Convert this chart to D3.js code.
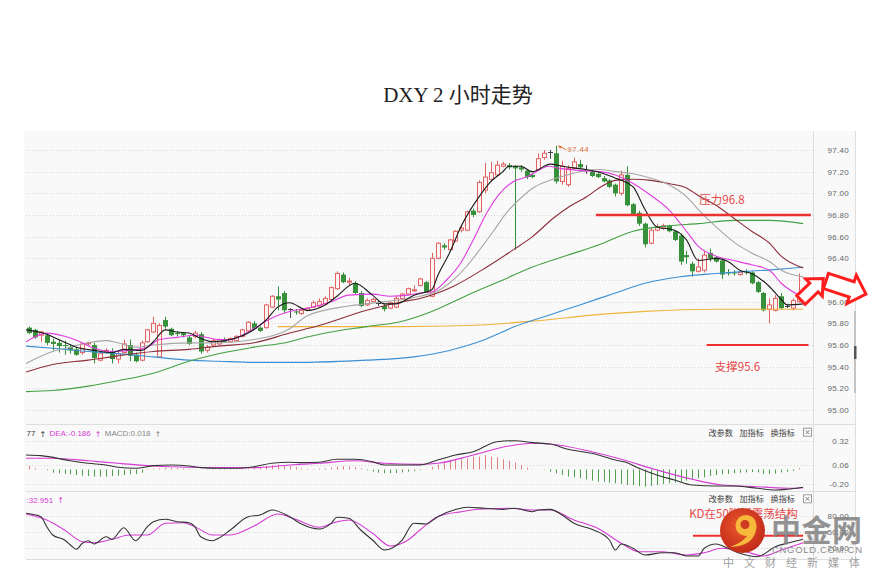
<!DOCTYPE html>
<html>
<head>
<meta charset="utf-8">
<script src="https://cdn.jsdelivr.net/npm/d3@7/dist/d3.min.js"></script>
<style>
html,body{margin:0;padding:0;background:#fff;}
svg{display:block;}
</style>
</head>
<body>
<svg id="chart" width="877" height="580"></svg>
<script>
// ---------------- DATA ----------------
const title = "DXY 2小时走势";
const priceTicks = [97.4,97.2,97.0,96.8,96.6,96.4,96.2,96.0,95.8,95.6,95.4,95.2,95.0];
const macdTicks = [0.32,0.06,-0.20];
const kdTicks = [80,50,20];
const panelButtons = ["改参数","加指标","换指标"];

const open = [95.76,95.74,95.69,95.69,95.63,95.62,95.60,95.58,95.56,95.53,
95.61,95.60,95.46,95.54,95.54,95.47,95.53,95.60,95.51,95.46,
95.63,95.72,95.49,95.83,95.75,95.71,95.71,95.67,95.68,95.70,
95.55,95.60,95.61,95.65,95.63,95.64,95.68,95.73,95.80,95.76,
95.76,95.95,96.05,96.08,95.93,95.91,95.89,95.92,95.95,95.96,
95.98,96.02,96.12,96.25,96.18,96.17,96.08,95.97,96.00,95.99,
95.96,95.94,95.95,96.03,96.07,96.10,96.15,96.18,96.05,96.40,
96.52,96.48,96.56,96.66,96.66,96.84,96.83,97.03,97.13,97.17,
97.25,97.26,97.25,97.24,97.21,97.17,97.22,97.33,97.38,97.37,
97.11,97.08,97.23,97.27,97.22,97.20,97.18,97.14,97.12,97.08,
97.00,97.17,96.90,96.82,96.72,96.54,96.66,96.68,96.70,96.65,
96.61,96.43,96.35,96.28,96.29,96.45,96.41,96.38,96.27,96.27,
96.25,96.28,96.27,96.18,96.08,95.93,95.92,96.05,95.96,95.94,
96.00];
const high = [95.77,95.75,95.73,95.71,95.66,95.65,95.64,95.60,95.58,95.62,
95.63,95.62,95.52,95.57,95.57,95.55,95.65,95.65,95.53,95.64,
95.75,95.86,95.80,95.86,95.76,95.73,95.72,95.69,95.73,95.72,
95.60,95.66,95.66,95.67,95.67,95.69,95.75,95.82,95.82,95.77,
95.98,96.06,96.14,96.10,95.94,95.93,95.93,95.95,96.01,96.03,
96.05,96.14,96.28,96.27,96.22,96.19,96.10,96.03,96.04,96.01,
95.98,96.00,96.05,96.08,96.13,96.15,96.22,96.19,96.45,96.55,
96.54,96.58,96.66,96.70,96.84,96.86,97.12,97.28,97.29,97.30,
97.29,97.28,97.26,97.26,97.22,97.19,97.37,97.40,97.40,97.44,
97.30,97.26,97.33,97.31,97.26,97.22,97.19,97.16,97.13,97.09,
97.21,97.25,96.91,96.84,96.73,96.68,96.72,96.72,96.71,96.66,
96.63,96.47,96.37,96.40,96.47,96.49,96.42,96.39,96.30,96.29,
96.29,96.30,96.28,96.19,96.09,96.03,96.06,96.08,95.98,96.03,
96.26];
const low = [95.70,95.66,95.63,95.60,95.55,95.53,95.51,95.52,95.50,95.51,
95.60,95.43,95.45,95.52,95.43,95.43,95.52,95.45,95.44,95.45,
95.62,95.71,95.48,95.75,95.68,95.68,95.67,95.60,95.66,95.52,
95.53,95.59,95.60,95.62,95.62,95.63,95.67,95.72,95.74,95.72,
95.75,95.94,95.92,95.89,95.85,95.88,95.88,95.91,95.94,95.95,
95.97,96.01,96.11,96.17,96.15,96.07,95.95,95.96,95.99,95.96,
95.91,95.93,95.94,96.02,96.06,96.09,96.14,96.08,96.04,96.39,
96.48,96.47,96.55,96.64,96.65,96.78,96.82,97.00,97.11,97.16,
97.24,97.22,96.48,97.20,97.13,97.14,97.21,97.31,97.32,97.09,
97.08,97.06,97.22,97.23,97.18,97.15,97.14,97.10,97.05,96.97,
96.98,96.88,96.80,96.70,96.50,96.53,96.65,96.66,96.64,96.56,
96.34,96.35,96.23,96.27,96.27,96.37,96.36,96.21,96.24,96.24,
96.24,96.25,96.16,96.08,95.91,95.80,95.91,95.93,95.94,95.92,
95.99];
const close = [95.71,95.67,95.72,95.62,95.61,95.59,95.59,95.55,95.51,95.61,
95.62,95.48,95.52,95.55,95.47,95.52,95.61,95.50,95.45,95.62,
95.74,95.80,95.78,95.77,95.69,95.70,95.69,95.61,95.71,95.54,
95.58,95.64,95.65,95.63,95.66,95.68,95.74,95.81,95.75,95.73,
95.97,96.05,96.02,95.92,95.93,95.90,95.92,95.94,95.99,96.00,
96.03,96.13,96.26,96.18,96.19,96.08,95.96,96.01,96.02,95.99,
95.93,95.99,96.03,96.07,96.12,96.11,96.21,96.09,96.40,96.54,
96.50,96.57,96.65,96.68,96.83,96.80,97.10,97.15,97.19,97.26,
97.27,97.24,97.23,97.22,97.15,97.15,97.32,97.37,97.38,97.11,
97.25,97.23,97.29,97.24,97.22,97.16,97.15,97.11,97.06,97.00,
97.17,96.89,96.81,96.72,96.53,96.66,96.69,96.70,96.65,96.57,
96.37,96.41,96.28,96.32,96.43,96.40,96.37,96.25,96.26,96.26,
96.27,96.27,96.17,96.09,95.92,95.97,96.03,95.94,95.96,96.01,
96.05];

// moving averages: [bar index, price]
const ma5 = [[-0.5,95.74],[3,95.70],[5,95.65],[8,95.58],[11,95.55],[14,95.53],[16,95.56],[19,95.55],[21,95.63],[23,95.74],[25,95.72],[27,95.71],[29,95.66],[31,95.63],[34,95.65],[37,95.71],[40,95.83],[42,95.95],[44,95.99],[47,95.92],[50,95.97],[52,96.05],[55,96.17],[58,96.06],[60,95.98],[62,95.98],[65,96.06],[68,96.11],[69,96.24],[71,96.45],[73,96.70],[76,96.97],[78,97.11],[80,97.20],[81,97.25],[83,97.25],[85,97.20],[88,97.27],[90,97.25],[94,97.22],[96,97.20],[99,97.14],[100,97.12],[102,97.06],[104,96.85],[106,96.69],[109,96.66],[111,96.57],[113,96.38],[116,96.40],[118,96.37],[120,96.29],[122,96.26],[125,96.14],[127,96.02],[128,95.97],[130.7,95.98]];
const ma10 = [[-0.5,95.63],[3,95.71],[6,95.68],[9,95.62],[11,95.57],[14,95.54],[17,95.55],[20,95.58],[22,95.65],[25,95.67],[28,95.69],[30,95.67],[32,95.65],[34,95.65],[37,95.72],[41,95.85],[44,95.91],[47,95.94],[51,96.00],[54,96.06],[58,96.07],[61,96.05],[64,96.06],[66,96.08],[68,96.09],[70.5,96.20],[72.8,96.35],[75,96.57],[77.3,96.82],[79.5,97.00],[81.8,97.11],[84,97.15],[86.3,97.22],[87.7,97.25],[89.6,97.23],[93,97.21],[96.4,97.20],[99,97.17],[102,97.09],[105,96.98],[108,96.85],[111,96.65],[113,96.51],[116,96.42],[119,96.38],[122,96.34],[125,96.29],[127,96.17],[130.7,96.04]];
const ma20 = [[-0.5,95.43],[4,95.54],[7,95.58],[10,95.62],[13,95.64],[15,95.62],[18,95.58],[21,95.60],[27,95.62],[32,95.62],[38,95.65],[44,95.75],[47,95.87],[54,95.96],[60,96.00],[66,96.05],[69.4,96.11],[71.6,96.20],[73.8,96.32],[76.1,96.48],[78.4,96.65],[80.6,96.82],[82.9,96.95],[85.1,97.05],[87.4,97.11],[89.6,97.15],[93,97.20],[96.4,97.22],[99,97.20],[102,97.18],[105,97.14],[108,97.08],[111,96.97],[113,96.85],[116,96.69],[119,96.55],[122,96.45],[125,96.37],[127,96.29],[130.7,96.23]];
const ma30 = [[-0.5,95.35],[4,95.42],[10,95.46],[15,95.50],[21,95.54],[27,95.56],[32,95.59],[38,95.62],[44,95.71],[49,95.78],[57,95.92],[63,96.00],[66,96.03],[71.6,96.14],[77.3,96.32],[81.8,96.48],[85,96.60],[88.5,96.77],[91,96.87],[94.2,96.97],[96,97.04],[99,97.12],[102,97.13],[105,97.12],[108,97.09],[111,97.05],[113,96.98],[116,96.89],[119,96.77],[122,96.65],[125,96.54],[127,96.42],[130.7,96.31]];
const ma60 = [[-0.5,95.17],[4,95.18],[10,95.22],[15,95.27],[21,95.34],[27,95.45],[32,95.52],[38,95.58],[44,95.63],[46,95.66],[51,95.72],[57,95.77],[63,95.82],[68,95.91],[74,96.06],[80,96.20],[85,96.32],[91,96.43],[96,96.52],[102,96.65],[108,96.70],[113,96.72],[119,96.75],[125,96.75],[130.7,96.72]];
const ma120 = [[-0.5,95.59],[4,95.57],[10,95.54],[15,95.52],[21,95.49],[27,95.46],[32,95.45],[38,95.44],[46,95.44],[57,95.46],[65,95.49],[71,95.55],[77,95.65],[82,95.77],[88,95.88],[93,95.97],[99,96.08],[104,96.17],[110,96.23],[116,96.26],[121,96.28],[127,96.30],[130.7,96.32]];
const ma250 = [[42,95.77],[63,95.77],[74,95.78],[85,95.82],[96,95.88],[104,95.91],[116,95.93],[130.7,95.93]];

// MACD
const macdHist = [0.047,0.016,0.004,-0.010,-0.044,-0.052,-0.061,-0.066,-0.075,-0.084,
-0.088,-0.097,-0.097,-0.097,-0.088,-0.084,-0.075,-0.066,-0.061,-0.044,
0.010,0.012,0.016,0.020,0.020,0.016,0.012,0.008,0.006,0.004,
-0.004,-0.006,-0.006,-0.005,-0.004,0.004,0.008,0.012,0.020,0.030,
0.045,0.060,0.065,0.060,0.045,0.030,0.015,0.008,0.006,0.010,
0.015,0.025,0.035,0.045,0.040,0.030,0.015,-0.010,-0.030,-0.045,
-0.050,-0.052,-0.048,-0.040,-0.030,-0.020,-0.010,0.006,0.035,0.065,
0.095,0.113,0.113,0.121,0.132,0.149,0.149,0.167,0.149,0.142,
0.121,0.106,0.085,0.060,0.024,0.005,0.000,-0.005,-0.030,-0.052,
-0.075,-0.097,-0.106,-0.119,-0.133,-0.151,-0.165,-0.165,-0.178,-0.187,
-0.196,-0.209,-0.209,-0.223,-0.232,-0.223,-0.209,-0.196,-0.187,-0.178,
-0.165,-0.151,-0.133,-0.119,-0.106,-0.088,-0.075,-0.066,-0.061,-0.052,
-0.044,-0.040,-0.035,-0.040,-0.060,-0.060,-0.055,-0.040,-0.030,-0.020,
0.018];
const diffLine = [[-0.5,0.167],[2,0.160],[7,0.106],[10,0.078],[13,0.060],[15,0.029],[18,0.016],[21,0.051],[24,0.060],[27,0.047],[29,0.024],[32,0.016],[35,0.016],[38,0.037],[41,0.078],[44,0.089],[46,0.085],[49,0.089],[52,0.121],[55,0.121],[58,0.095],[60,0.060],[63,0.060],[66,0.060],[69,0.113],[72,0.167],[75,0.202],[79,0.309],[82,0.320],[85,0.299],[88,0.285],[91,0.228],[95,0.185],[99,0.113],[101,0.085],[103,0.016],[106,-0.075],[109,-0.142],[112,-0.209],[116,-0.223],[119,-0.223],[123,-0.254],[126,-0.277],[128,-0.267],[130.7,-0.240]];
const deaLine = [[-0.5,0.132],[4,0.132],[10,0.106],[15,0.078],[21,0.047],[27,0.029],[32,0.024],[38,0.024],[44,0.060],[49,0.078],[55,0.106],[60,0.078],[66,0.067],[69,0.078],[75,0.167],[81,0.263],[85,0.292],[88,0.285],[95,0.202],[100,0.121],[106,-0.007],[112,-0.133],[117,-0.209],[123,-0.232],[129,-0.254],[130.7,-0.246]];

// KD
const kLine = [[-0.5,85.0],[2,78.7],[3,60.1],[4,44.7],[6,35.4],[7,26.1],[8,18.1],[9,29.3],[10,34.1],[11,28.0],[13,41.5],[14,36.7],[16,58.3],[18,34.1],[20,60.1],[21,69.4],[23,73.9],[25,69.4],[27,67.6],[28,60.1],[29,41.5],[31,34.1],[32,38.6],[34,54.0],[37,78.7],[39,81.9],[41,91.1],[44,78.7],[46,65.1],[49,55.9],[51,66.4],[52,77.6],[54,75.7],[56,54.0],[58,35.4],[60,16.8],[63,35.4],[65,66.4],[67,65.1],[69,78.7],[72,92.0],[74,96.2],[77,94.3],[80,92.4],[82,94.3],[85,88.0],[86,91.1],[88,92.4],[90,81.9],[92,66.4],[95,55.3],[98,35.4],[99,16.8],[100,28.0],[102,20.0],[104,7.5],[107,11.8],[109,11.8],[111,5.7],[113,5.7],[114,20.0],[116,28.0],[118,20.0],[120,10.7],[123,4.4],[126,23.0],[128,29.3],[130.7,36.7]];
const dLine = [[-0.5,83.7],[3,72.6],[6,54.0],[9,32.3],[11,30.4],[14,36.7],[17,44.7],[20,44.7],[23,66.4],[26,67.6],[28,60.1],[31,44.7],[34,44.7],[38,61.4],[42,83.7],[45,73.9],[49,59.0],[52,69.4],[54,72.6],[58,47.9],[61,24.3],[64,35.4],[66,54.0],[69,78.7],[73,88.0],[76,92.4],[81,94.3],[85,91.1],[88,91.1],[92,72.6],[96,57.2],[100,29.3],[103,13.7],[107,13.7],[111,7.5],[114,11.8],[117,20.0],[121,13.7],[124,5.7],[127,16.8],[130.7,30.4]];

// annotation levels and labels
const resistance = 96.8, support = 95.6, kdMark = 43.5;
const resistanceText = "压力96.8", supportText = "支撑95.6", kdText = "KD在50附近震荡结构";
// header fragments as visible in the (cropped) picture
const macdHeader = [["77","#333"],["DEA:-0.186","#d43cd4"],["MACD:0.018","#888"]];
const kdHeader = [[":32.951","#d43cd4"]];

// ---------------- DRAW ----------------
const svg = d3.select('#chart');
const L = 26, R = 813, AXR = 855;
const T = 131, MB = 424, XB = 491, KB = 559;
const SANS = "'Liberation Sans', Arial, sans-serif";
const CJK = "'Noto Sans CJK SC', 'Noto Sans', sans-serif";

const x = d3.scaleLinear().domain([0, 130]).range([29, 799]);
const yP = d3.scaleLinear().domain([95.0, 97.4]).range([410, 150]);
const yM = d3.scaleLinear().domain([-0.20, 0.06, 0.32]).range([484.3, 465, 440.7]);
const yK = d3.scaleLinear().domain([20, 80]).range([548.3, 516]);

svg.append('rect').attr('x', 24).attr('y', T).attr('width', AXR - 24).attr('height', KB - T).attr('fill', '#f9f9f9');

const defs = svg.append('defs');
function clip(id, x0, y0, x1, y1) {
  defs.append('clipPath').attr('id', id).append('rect')
    .attr('x', x0).attr('y', y0).attr('width', x1 - x0).attr('height', y1 - y0);
}
clip('cMain', L, T, R, MB);
clip('cMacd', L, MB + 1, R, XB);
clip('cKd', L, XB + 1, R, KB);
const rg = defs.append('radialGradient').attr('id', 'logoG').attr('cx', '45%').attr('cy', '40%').attr('r', '60%');
rg.append('stop').attr('offset', '0%').attr('stop-color', '#ec5a2c');
rg.append('stop').attr('offset', '100%').attr('stop-color', '#c22a1a');

// grid
const grid = svg.append('g').attr('stroke', '#d6d6d6').attr('stroke-dasharray', '1,2').attr('fill', 'none');
function hgrid(ys) { grid.append('line').attr('x1', L).attr('x2', R).attr('y1', Math.round(ys) + 0.5).attr('y2', Math.round(ys) + 0.5); }
priceTicks.forEach(t => hgrid(yP(t)));
macdTicks.forEach(t => hgrid(yM(t)));
kdTicks.forEach(t => hgrid(yK(t)));

// separators
const sep = svg.append('g').attr('stroke', '#dedede');
[MB, XB, KB].forEach(y => sep.append('line').attr('x1', L).attr('x2', AXR).attr('y1', y + 0.5).attr('y2', y + 0.5));
sep.append('line').attr('x1', R + 0.5).attr('x2', R + 0.5).attr('y1', T).attr('y2', KB);
sep.append('line').attr('x1', AXR + 0.5).attr('x2', AXR + 0.5).attr('y1', T).attr('y2', KB);
svg.append('rect').attr('x', 854).attr('y', 311).attr('width', 2).attr('height', 82).attr('fill', '#c4c4c4');
svg.append('rect').attr('x', 854).attr('y', 346).attr('width', 2.5).attr('height', 13).attr('fill', '#555');

// axes
function rightAxis(scale, ticks) {
  const g = svg.append('g').attr('transform', 'translate(849,0)')
    .call(d3.axisRight(scale).tickValues(ticks).tickFormat(d => d.toFixed(2)).tickSize(0).tickPadding(0));
  g.select('.domain').remove();
  g.attr('font-family', SANS).attr('font-size', 8);
  g.selectAll('text').attr('text-anchor', 'end').attr('x', 0).attr('fill', '#666').attr('letter-spacing', '0.3px');
}
rightAxis(yP, priceTicks);
rightAxis(yM, macdTicks);
rightAxis(yK, kdTicks);

// main panel
const gMain = svg.append('g').attr('clip-path', 'url(#cMain)');
const gC = gMain.append('g');
for (let i = 0; i < open.length; i++) {
  const cx = Math.round(x(i)) + 0.5;
  const up = close[i] > open[i] + 0.004, down = close[i] < open[i] - 0.004;
  const col = up ? '#e06262' : (down ? '#37903a' : '#444');
  gC.append('line').attr('x1', cx).attr('x2', cx).attr('y1', yP(high[i])).attr('y2', yP(low[i])).attr('stroke', col);
  if (up) {
    gC.append('rect').attr('x', cx - 2).attr('y', yP(close[i])).attr('width', 4)
      .attr('height', Math.max(1, yP(open[i]) - yP(close[i]))).attr('fill', '#fdf4f4').attr('stroke', col);
  } else if (down) {
    gC.append('rect').attr('x', cx - 2.5).attr('y', yP(open[i])).attr('width', 5)
      .attr('height', Math.max(1, yP(close[i]) - yP(open[i]))).attr('fill', col);
  } else {
    gC.append('line').attr('x1', cx - 2.5).attr('x2', cx + 2.5).attr('y1', Math.round(yP(close[i])) + 0.5)
      .attr('y2', Math.round(yP(close[i])) + 0.5).attr('stroke', col);
  }
}
function drawLine(g, data, ys, color, w) {
  g.append('path').datum(data).attr('fill', 'none').attr('stroke', color).attr('stroke-width', w || 1.1)
    .attr('d', d3.line().x(d => x(d[0])).y(d => ys(d[1])).curve(d3.curveMonotoneX));
}
drawLine(gMain, ma250, yP, '#f0b43c');
drawLine(gMain, ma120, yP, '#3b8fd4');
drawLine(gMain, ma60, yP, '#43a043');
drawLine(gMain, ma30, yP, '#8b2e3a');
drawLine(gMain, ma20, yP, '#a6a6a6');
drawLine(gMain, ma10, yP, '#e03ce0');
drawLine(gMain, ma5, yP, '#1a1a1a');

// high marker
const hi = d3.maxIndex(high);
const hx = x(hi), hy = yP(high[hi]);
svg.append('line').attr('x1', hx + 2).attr('y1', hy).attr('x2', hx + 10).attr('y2', hy + 4).attr('stroke', '#e0703a');
svg.append('path').attr('d', `M${hx + 2},${hy} l4,0.5 l-2,2.5 z`).attr('fill', '#e0703a');
svg.append('text').attr('x', hx + 11).attr('y', hy + 4).attr('dy', '0.32em').attr('font-family', SANS)
  .attr('font-size', 8).attr('letter-spacing', '0.4px').attr('fill', '#e0703a').text(high[hi].toFixed(2));

// MACD panel
const gMacd = svg.append('g').attr('clip-path', 'url(#cMacd)');
macdHist.forEach((v, i) => {
  const cx = Math.round(x(i)) + 0.5;
  gMacd.append('line').attr('x1', cx).attr('x2', cx).attr('y1', yM(0)).attr('y2', yM(v))
    .attr('stroke', v >= 0 ? '#e07f7f' : '#4f9f4f');
});
drawLine(gMacd, deaLine, yM, '#d43cd4', 1.1);
drawLine(gMacd, diffLine, yM, '#333', 1.1);

// KD panel
const gKd = svg.append('g').attr('clip-path', 'url(#cKd)');
drawLine(gKd, dLine, yK, '#d43cd4', 1.1);
drawLine(gKd, kLine, yK, '#333', 1.1);

// headers
function header(items, y) {
  let cx = 26.5;
  items.forEach(([s, c]) => {
    const t = svg.append('text').attr('x', cx).attr('y', y).attr('font-family', SANS).attr('font-size', 8).attr('fill', c).text(s);
    cx += t.node().getComputedTextLength() + 4;
    svg.append('text').attr('x', cx).attr('y', y + 0.5).attr('font-family', 'DejaVu Sans, sans-serif').attr('font-size', 8).attr('fill', c).text('↑');
    cx += 10;
  });
}
header(macdHeader, 436);
header(kdHeader, 502.5);

function buttons(yc) {
  const ends = [733, 764, 795];
  panelButtons.forEach((s, k) => {
    svg.append('text').attr('x', ends[k]).attr('y', yc).attr('dy', '0.36em').attr('text-anchor', 'end')
      .attr('font-family', CJK).attr('font-size', 8.2).attr('fill', '#444').text(s);
  });
  svg.append('rect').attr('x', 803.5).attr('y', yc - 4.5).attr('width', 8).attr('height', 8).attr('fill', '#fff').attr('stroke', '#999');
  svg.append('path').attr('d', `M805.5,${yc - 2.5}l4,4M809.5,${yc - 2.5}l-4,4`).attr('stroke', '#777').attr('fill', 'none');
}
buttons(432.7);
buttons(499.3);

// annotations
const RED = '#ef3030';
function redLine(i0, i1, yv, w) {
  svg.append('line').attr('x1', x(i0)).attr('x2', x(i1)).attr('y1', yv).attr('y2', yv).attr('stroke', RED).attr('stroke-width', w);
}
redLine(95.7, 132.0, yP(resistance), 2.5);
redLine(114.4, 131.6, yP(support), 2);
redLine(112.1, 130.7, yK(kdMark), 2);
function redText(s, cx, cy) {
  svg.append('text').attr('x', cx).attr('y', cy).attr('dy', '0.36em').attr('text-anchor', 'middle')
    .attr('font-family', CJK).attr('font-size', 11.5).attr('fill', '#e64848').text(s);
}
redText(resistanceText, 722, 200);
redText(supportText, 737.5, 367);
redText(kdText, 743.5, 513.5);

// outlined arrows
function blockArrow(tx, ty, ang, len, hl, hh, sh) {
  const pts = [[0, -sh], [len - hl, -sh], [len - hl, -hh], [len, 0], [len - hl, hh], [len - hl, sh], [0, sh]];
  const a = ang * Math.PI / 180, c = Math.cos(a), s = Math.sin(a);
  return pts.map(([u, v]) => [tx + u * c - v * s, ty + u * s + v * c]);
}
[[801, 300, -44, 31, 13, 12, 6], [826, 281, 18, 42, 15, 15, 8]].forEach(a => {
  svg.append('polygon').attr('points', blockArrow(...a).map(p => p.join(',')).join(' '))
    .attr('fill', '#fff').attr('stroke', '#ff1e1e').attr('stroke-width', 3).attr('stroke-linejoin', 'miter');
});

// watermark
const wm = svg.append('g');
wm.append('circle').attr('cx', 742.5).attr('cy', 530.5).attr('r', 22.5).attr('fill', 'url(#logoG)');
wm.append('circle').attr('cx', 746).attr('cy', 525.5).attr('r', 10.5).attr('fill', '#f6b93b');
wm.append('circle').attr('cx', 745).attr('cy', 524.5).attr('r', 4.5).attr('fill', '#cf3a22');
wm.append('path').attr('d', 'M756.5,527 Q755,546 730,547 Q748,540 749,531 Z').attr('fill', '#f6b93b');
wm.append('text').attr('x', 771).attr('y', 541).attr('font-family', CJK).attr('font-weight', 'bold')
  .attr('font-size', 30).attr('fill', '#808080').attr('fill-opacity', 0.85).attr('textLength', 91).text('中金网');
wm.append('text').attr('x', 772).attr('y', 552.5).attr('font-family', SANS).attr('font-size', 9.5)
  .attr('fill', '#8c8c8c').attr('textLength', 90).attr('lengthAdjust', 'spacing').text('CNGOLD.COM.CN');
wm.append('text').attr('x', 723).attr('y', 566.5).attr('font-family', CJK).attr('font-size', 11)
  .attr('fill', '#a0a0a0').attr('textLength', 137).attr('lengthAdjust', 'spacing').text('中文财经新媒体');

// title
svg.append('text').attr('x', 458).attr('y', 102).attr('text-anchor', 'middle')
  .attr('font-family', "'Liberation Serif', 'Noto Sans CJK SC', serif").attr('font-size', 21).attr('fill', '#222')
  .text(title.replace('2', '2 '));
</script>
</body>
</html>
